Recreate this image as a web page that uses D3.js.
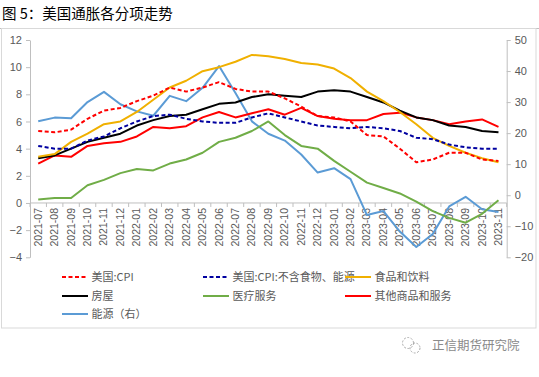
<!DOCTYPE html>
<html><head><meta charset="utf-8">
<script src="https://cdn.jsdelivr.net/npm/d3@7"></script>
<style>
html,body{margin:0;padding:0;background:#fff;}
svg{display:block;}
</style></head>
<body>
<svg id="chart" width="539" height="377"></svg>
<script>
const months = ["2021-07","2021-08","2021-09","2021-10","2021-11","2021-12","2022-01","2022-02","2022-03","2022-04","2022-05","2022-06","2022-07","2022-08","2022-09","2022-10","2022-11","2022-12","2023-01","2023-02","2023-03","2023-04","2023-05","2023-06","2023-07","2023-08","2023-09","2023-10","2023-11"];
const cpi   = [5.3,5.2,5.4,6.2,6.8,7.0,7.5,7.9,8.5,8.2,8.5,8.9,8.4,8.2,8.2,7.7,7.1,6.4,6.3,6.0,5.0,4.9,4.0,3.0,3.2,3.7,3.7,3.2,3.1];
const core  = [4.2,4.0,4.0,4.6,4.9,5.5,6.0,6.4,6.5,6.2,6.0,5.9,5.9,6.3,6.6,6.3,6.0,5.7,5.6,5.5,5.6,5.5,5.3,4.8,4.7,4.3,4.1,4.0,4.0];
const food  = [3.4,3.6,4.5,5.1,5.8,6.0,6.7,7.6,8.5,9.0,9.7,10.0,10.4,10.9,10.8,10.6,10.3,10.2,9.9,9.2,8.2,7.5,6.7,5.8,4.8,4.2,3.7,3.3,3.0];
const housing = [3.3,3.5,4.0,4.5,4.8,5.1,5.7,6.1,6.4,6.5,6.9,7.3,7.4,7.8,8.0,7.9,7.8,8.2,8.3,8.2,7.8,7.4,6.8,6.3,6.1,5.7,5.6,5.3,5.2];
const medical = [0.25,0.37,0.37,1.3,1.7,2.2,2.5,2.4,2.9,3.2,3.7,4.5,4.8,5.3,6.0,5.0,4.2,4.0,3.1,2.3,1.5,1.1,0.7,0.1,-0.6,-1.1,-1.45,-0.8,0.2];
const other = [2.9,3.5,3.4,4.2,4.4,4.5,4.9,5.6,5.5,5.65,6.3,6.7,6.3,6.6,6.9,6.5,7.0,6.4,6.2,6.1,6.1,6.55,6.65,6.3,6.1,5.8,6.0,6.15,5.6];
const energy = [23.8,25.0,24.8,30.0,33.3,29.3,27.0,25.6,32.0,30.3,34.6,41.6,32.9,23.8,19.8,17.6,13.1,7.3,8.7,5.2,-6.4,-5.1,-11.7,-16.7,-12.5,-3.6,-0.5,-4.5,-5.4];
const leftTicks = [-4,-2,0,2,4,6,8,10,12];
const rightTicks = [-20,-10,0,10,20,30,40,50];
const titleText = "图 5：美国通胀各分项走势";
const watermark = "正信期货研究院";

const seriesList = [
  {name:"美国:CPI", values:cpi, color:"#FF0000", dash:"4,2.5", axis:"L"},
  {name:"美国:CPI:不含食物、能源", values:core, color:"#0000A0", dash:"4,2.5", axis:"L"},
  {name:"食品和饮料", values:food, color:"#F0B000", dash:null, axis:"L"},
  {name:"房屋", values:housing, color:"#000000", dash:null, axis:"L"},
  {name:"医疗服务", values:medical, color:"#70AD47", dash:null, axis:"L"},
  {name:"其他商品和服务", values:other, color:"#FF0000", dash:null, axis:"L"},
  {name:"能源（右）", values:energy, color:"#5B9BD5", dash:null, axis:"R"}
];
const drawOrder = [6,4,5,3,2,1,0];

(function(){
const svg = d3.select("#chart");
const font = "'Liberation Sans', Arial, sans-serif";
const cjk = "'Noto Sans CJK SC', 'Noto Sans', sans-serif";
const axisColor = "#BFBFBF";
const textColor = "#595959";

// frame
svg.append("line").attr("x1",0).attr("x2",539).attr("y1",28.5).attr("y2",28.5).attr("stroke","#BFBFBF").attr("stroke-width",1);
svg.append("rect").attr("x",1.5).attr("y",28.5).attr("width",534.5).attr("height",299.5).attr("fill","none").attr("stroke","#D9D9D9").attr("stroke-width",1);

// title
svg.append("text").attr("x",2).attr("y",19).attr("font-family",cjk).attr("font-size",14.5).attr("fill","#000").text(titleText);

const plotL = 30, plotR = 506.7, plotT = 40, plotB = 257.3;
const x = d3.scaleBand().domain(months).range([plotL, plotR]);
const yL = d3.scaleLinear().domain([-4,12]).range([plotB, plotT]);
const yR = d3.scaleLinear().domain([-20,50]).range([plotB, plotT]);

// left axis
const gL = svg.append("g").attr("transform",`translate(${plotL},0)`)
  .call(d3.axisLeft(yL).tickValues(leftTicks).tickSize(4).tickSizeOuter(0).tickFormat(d3.format("d")));
gL.selectAll("path,line").attr("stroke",axisColor);
gL.selectAll("text").attr("fill",textColor).attr("font-family",font).attr("font-size",11).attr("x",-8);

// right axis
const gR = svg.append("g").attr("transform",`translate(${plotR},0)`)
  .call(d3.axisRight(yR).tickValues(rightTicks).tickSize(4).tickSizeOuter(0).tickFormat(d3.format("d")));
gR.selectAll("path,line").attr("stroke",axisColor);
gR.selectAll("text").attr("fill",textColor).attr("font-family",font).attr("font-size",11).attr("x",8);

// category axis at left zero
const y0 = yL(0);
const gX = svg.append("g");
gX.append("line").attr("x1",plotL).attr("x2",plotR).attr("y1",y0).attr("y2",y0).attr("stroke",axisColor);
const bounds = months.map(m => x(m)).concat([plotR]);
gX.selectAll("line.tk").data(bounds).enter().append("line").attr("class","tk")
  .attr("x1",d=>d).attr("x2",d=>d).attr("y1",y0).attr("y2",y0+4).attr("stroke",axisColor);
gX.selectAll("text").data(months).enter().append("text")
  .attr("transform",d=>`translate(${x(d)+x.bandwidth()/2+3.5},${y0+5}) rotate(-90)`)
  .attr("text-anchor","end").attr("font-family",font).attr("font-size",10.5).attr("fill",textColor)
  .text(d=>d);

// lines
drawOrder.forEach(i => {
  const s = seriesList[i];
  const ys = s.axis === "L" ? yL : yR;
  const line = d3.line().x((d,j)=>x(months[j])+x.bandwidth()/2).y(d=>ys(d));
  svg.append("path").datum(s.values).attr("d",line).attr("fill","none")
    .attr("stroke",s.color).attr("stroke-width",2).attr("stroke-linejoin","round")
    .attr("stroke-dasharray",s.dash);
});

// legend
const legCols = [62,203,345];
const legRows = [277,296,314];
seriesList.forEach((s,i) => {
  const cx = legCols[i%3], cy = legRows[Math.floor(i/3)];
  svg.append("line").attr("x1",cx).attr("x2",cx+26).attr("y1",cy).attr("y2",cy)
    .attr("stroke",s.color).attr("stroke-width",2).attr("stroke-dasharray",s.dash);
  svg.append("text").attr("x",cx+29.5).attr("y",cy+4).attr("font-family",cjk).attr("font-size",11)
    .attr("fill",textColor).text(s.name);
});

// watermark
const wm = svg.append("g").attr("fill","none").attr("stroke","#AAAAAA").attr("stroke-width",1);
wm.append("circle").attr("cx",408).attr("cy",343).attr("r",5.5).attr("stroke-dasharray","2,1.5");
wm.append("circle").attr("cx",415).attr("cy",348).attr("r",5).attr("stroke-dasharray","2,1.5");
svg.append("text").attr("x",432).attr("y",350).attr("font-family",cjk).attr("font-size",12.5)
  .attr("fill","#8A8A8A").text(watermark);
})();
</script>
</body></html>
